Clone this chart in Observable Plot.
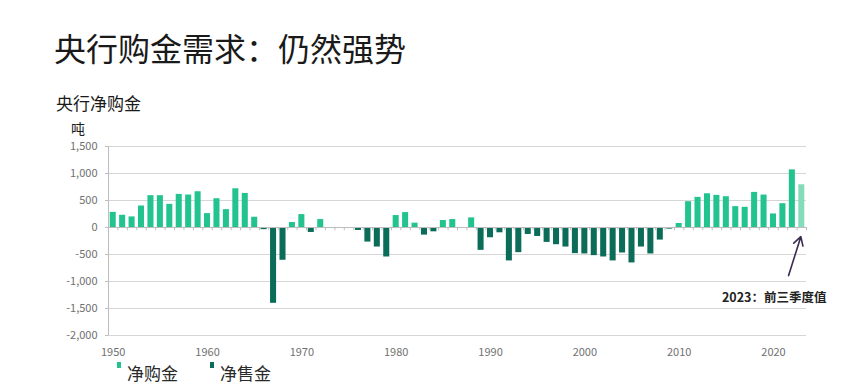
<!DOCTYPE html>
<html>
<head>
<meta charset="utf-8">
<script src="https://cdn.jsdelivr.net/npm/d3@7"></script>
<script src="https://cdn.jsdelivr.net/npm/@observablehq/plot@0.6"></script>
<style>
  body { margin: 0; background: #fff; font-family: "Noto Sans CJK SC", "Noto Sans", sans-serif; }
  #wrap { position: relative; width: 852px; height: 392px; overflow: hidden; }
  .t { position: absolute; white-space: nowrap; color: #1a1a1a; }
  #chart { position: absolute; left: 0; top: 0; }
  .sw { position: absolute; width: 4px; height: 6px; }
</style>
</head>
<body>
<div id="wrap">
  <div class="t" id="title" style="left:54px; top:27px; font-size:32px; line-height:40px;">央行购金需求：仍然强势</div>
  <div class="t" id="sub" style="left:56px; top:92px; font-size:17px; line-height:22px;">央行净购金</div>
  <div class="t" id="unit" style="left:71px; top:118px; font-size:14px; line-height:20px;">吨</div>
  <div id="chart"></div>
  <div class="sw" id="sw1" style="left:117px; top:362px;"></div>
  <div class="t" id="lg1" style="left:127px; top:361px; font-size:17px; line-height:24px; color:#2a2a2a;"></div>
  <div class="sw" id="sw2" style="left:210px; top:362px;"></div>
  <div class="t" id="lg2" style="left:220px; top:361px; font-size:17px; line-height:24px; color:#2a2a2a;"></div>
</div>
<script>
// Data (tonnes, central bank net purchases)
const years = d3.range(1950, 2024);
const values = [
  280, 227, 196, 398, 589, 589, 429, 613, 601, 662,
  257, 533, 331, 717, 631, 190, -40, -1404, -607, 92,
  239, -92, 147, -5, -8, -8, -55, -270, -362, -546,
  221, 276, 80, -141, -80, 129, 147, -8, 178, -423,
  -190, -98, -619, -466, -129, -166, -276, -319, -362, -484,
  -490, -521, -546, -619, -472, -656, -362, -490, -233, -30,
  74, 478, 558, 625, 595, 570, 386, 374, 650, 601,
  251, 441, 1067, 791
];
const partialYear = 2023;
const legendLabels = ["净购金", "净售金"];
const colors = { buy: "#22c38e", sell: "#0b6d59", partial: "#84dcba" };
const yTicks = [-2000, -1500, -1000, -500, 0, 500, 1000, 1500];
const xTicks = [1950, 1960, 1970, 1980, 1990, 2000, 2010, 2020];
const annotationText = "2023：前三季度值";
const annotationArrow = [{x1: 2021.6, y1: -890, x2: 2022.9, y2: -170}];
const annotationPos = [{x: 2023.5, y: -1300}];

const data = years.map((yr, i) => ({year: yr, value: values[i]}));
const colorOf = d => d.year === partialYear ? colors.partial : (d.value >= 0 ? colors.buy : colors.sell);
const boundaries = years.slice(0, -1).map(y => y + 0.5).concat([2023.5]);

document.getElementById("sw1").style.background = colors.buy;
document.getElementById("sw2").style.background = colors.sell;
document.getElementById("lg1").textContent = legendLabels[0];
document.getElementById("lg2").textContent = legendLabels[1];

const half = 0.32;
const plot = Plot.plot({
  width: 852,
  height: 392,
  marginLeft: 108,
  marginRight: 46,
  marginTop: 146,
  marginBottom: 57,
  style: { fontFamily: "'Noto Sans CJK SC', 'Noto Sans', sans-serif", fontSize: "11px", color: "#666", background: "transparent" },
  x: { domain: [1949.5, 2023.5], axis: null },
  y: { domain: [-2000, 1500], axis: null },
  marks: [
    Plot.ruleY(yTicks, { stroke: "#d6d6d6", strokeWidth: 1 }),
    Plot.rectY(data, {
      x1: d => d.year - half,
      x2: d => d.year + half,
      y1: 0,
      y2: "value",
      fill: colorOf
    }),
    Plot.ruleY([0], { stroke: "#bdbdbd", strokeWidth: 1 }),
    Plot.ruleX(boundaries, { x: d => d, y1: 0, y2: -60, stroke: "#bdbdbd" }),
    Plot.axisY({ ticks: yTicks, tickFormat: d => d.toLocaleString("en-US"), tickSize: 3, tickPadding: 8, stroke: "#bdbdbd", fill: "#707070", fontSize: 11, label: null }),
    Plot.ruleX([1949.5], { stroke: "#bdbdbd" }),
    Plot.axisX({ ticks: xTicks, tickFormat: d => String(d), tickSize: 0, tickPadding: 13, fill: "#707070", fontSize: 11, label: null }),
    Plot.arrow(annotationArrow, { x1: "x1", y1: "y1", x2: "x2", y2: "y2", stroke: "#3b2950", strokeWidth: 1.6, headLength: 9 }),
    Plot.text(annotationPos, { x: "x", y: "y", text: () => annotationText, textAnchor: "end", dx: 20, fontSize: 12.5, fontWeight: "bold", fill: "#222" })
  ]
});
document.getElementById("chart").appendChild(plot);
</script>
</body>
</html>
